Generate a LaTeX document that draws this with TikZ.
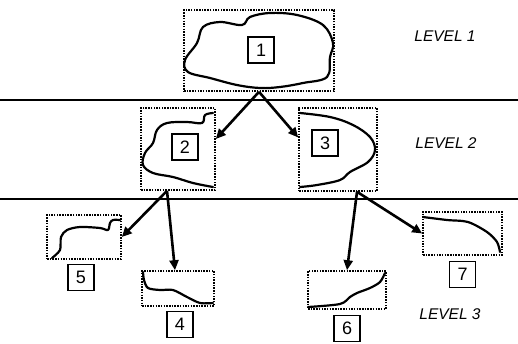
\documentclass[tikz,border=0pt]{standalone}
\usepackage{fontspec}
\setsansfont{Liberation Sans}
\usetikzlibrary{arrows.meta,positioning}
\tikzset{
	region/.style={
		draw,
		line width=1.6pt,
		dash pattern=on 1.5pt off 1.2pt,
		inner sep=0pt
	},
	tag/.style={
		draw,
		line width=1.3pt,
		minimum size=26pt,
		inner sep=0pt,
		font=\sffamily\fontsize{18}{18}\selectfont
	},
	outline/.style={line width=2.2pt, line join=round, line cap=round},
	divider/.style={line width=2pt},
	level/.style={font=\sffamily\itshape\fontsize{15.5}{16}\selectfont},
	every edge/.style={
		draw,
		-{Triangle[length=10pt,width=9pt]},
		line width=2.6pt
	}
}

\begin{document}
\begin{tikzpicture}[x=1pt,y=-1pt]
	\useasboundingbox (0,0) rectangle (518,343);

	% separators between the levels
	\draw[divider] (0,100) -- (518,100);
	\draw[divider] (0,199) -- (518,199);

	% level 1
	\node[region, minimum width=150pt, minimum height=81pt] (r1) at (259,50.5) {};
	\draw[outline] plot[smooth cycle, tension=0.6] coordinates {
		(185,60) (197,43) (203,27) (220,22) (242,25) (250,17) (270,13)
		(297,15) (323,25) (333,43) (330,57) (327,77) (303,83) (280,87)
		(260,88) (237,85) (210,78) (188,72)};
	\node[tag] (n1) at (261,50) {1};

	% level 2
	\node[region, minimum width=74pt, minimum height=82pt] (r2) at (178,149) {};
	\draw[outline] plot[smooth, tension=0.6] coordinates {
		(213,113) (205,115) (202,123) (187,122) (167,123) (157,130)
		(153,143) (145,153) (143,165) (153,173) (173,177) (193,183) (213,187)};
	\node[tag] (n2) at (185,147) {2};

	\node[region, minimum width=78pt, minimum height=83pt] (r3) at (338,149.5) {};
	\draw[outline] plot[smooth, tension=0.6] coordinates {
		(300,113) (330,117) (353,125) (370,137) (375,150) (368,162)
		(350,172) (340,180) (317,185) (300,187)};
	\node[tag] (n3) at (325,143) {3};

	% level 3
	\node[region, minimum width=74pt, minimum height=44pt] (r5) at (84,237) {};
	\draw[outline] plot[smooth, tension=0.5] coordinates {
		(52,258) (60,250) (61,237) (67,230) (80,227) (100,228) (108,230)
		(110,223) (113,220) (120,220)};
	\node[tag, below=4pt of r5, xshift=-3pt] (n5) {5};

	\node[region, minimum width=72pt, minimum height=35pt] (r4) at (178,288.5) {};
	\draw[outline] plot[smooth, tension=0.5] coordinates {
		(143,272) (144,280) (148,288) (160,290) (173,290) (187,297)
		(200,303) (213,303)};
	\node[tag, below=4pt of r4, xshift=2pt] (n4) {4};

	\node[region, minimum width=78pt, minimum height=38pt] (r6) at (347,290) {};
	\draw[outline] plot[smooth, tension=0.5] coordinates {
		(308,307) (340,304) (350,297) (357,293) (370,288) (380,282) (385,273)};
	\node[tag, below=5pt of r6] (n6) {6};

	\node[region, minimum width=79pt, minimum height=43pt] (r7) at (462.5,233.5) {};
	\draw[outline] plot[smooth, tension=0.5] coordinates {
		(423,217) (447,220) (468,222) (487,232) (497,242) (500,252)};
	\node[tag, below=5pt of r7] (n7) {7};

	% level names
	\node[level] (l1) at (445,36) {LEVEL 1};
	\node[level] (l2) at (446,143) {LEVEL 2};
	\node[level] (l3) at (450,314) {LEVEL 3};

	% split arrows
	\draw (r1.south) edge ([yshift=10pt]r2.east)
		(r1.south) edge ([yshift=12pt]r3.west);
	\draw ([xshift=-11pt]r2.south) edge (r5.east)
		([xshift=-11pt]r2.south) edge ([xshift=-3pt]r4.north);
	\draw ([xshift=19pt]r3.south) edge (r6.north)
		([xshift=19pt]r3.south) edge (r7.west);
\end{tikzpicture}
\end{document}
